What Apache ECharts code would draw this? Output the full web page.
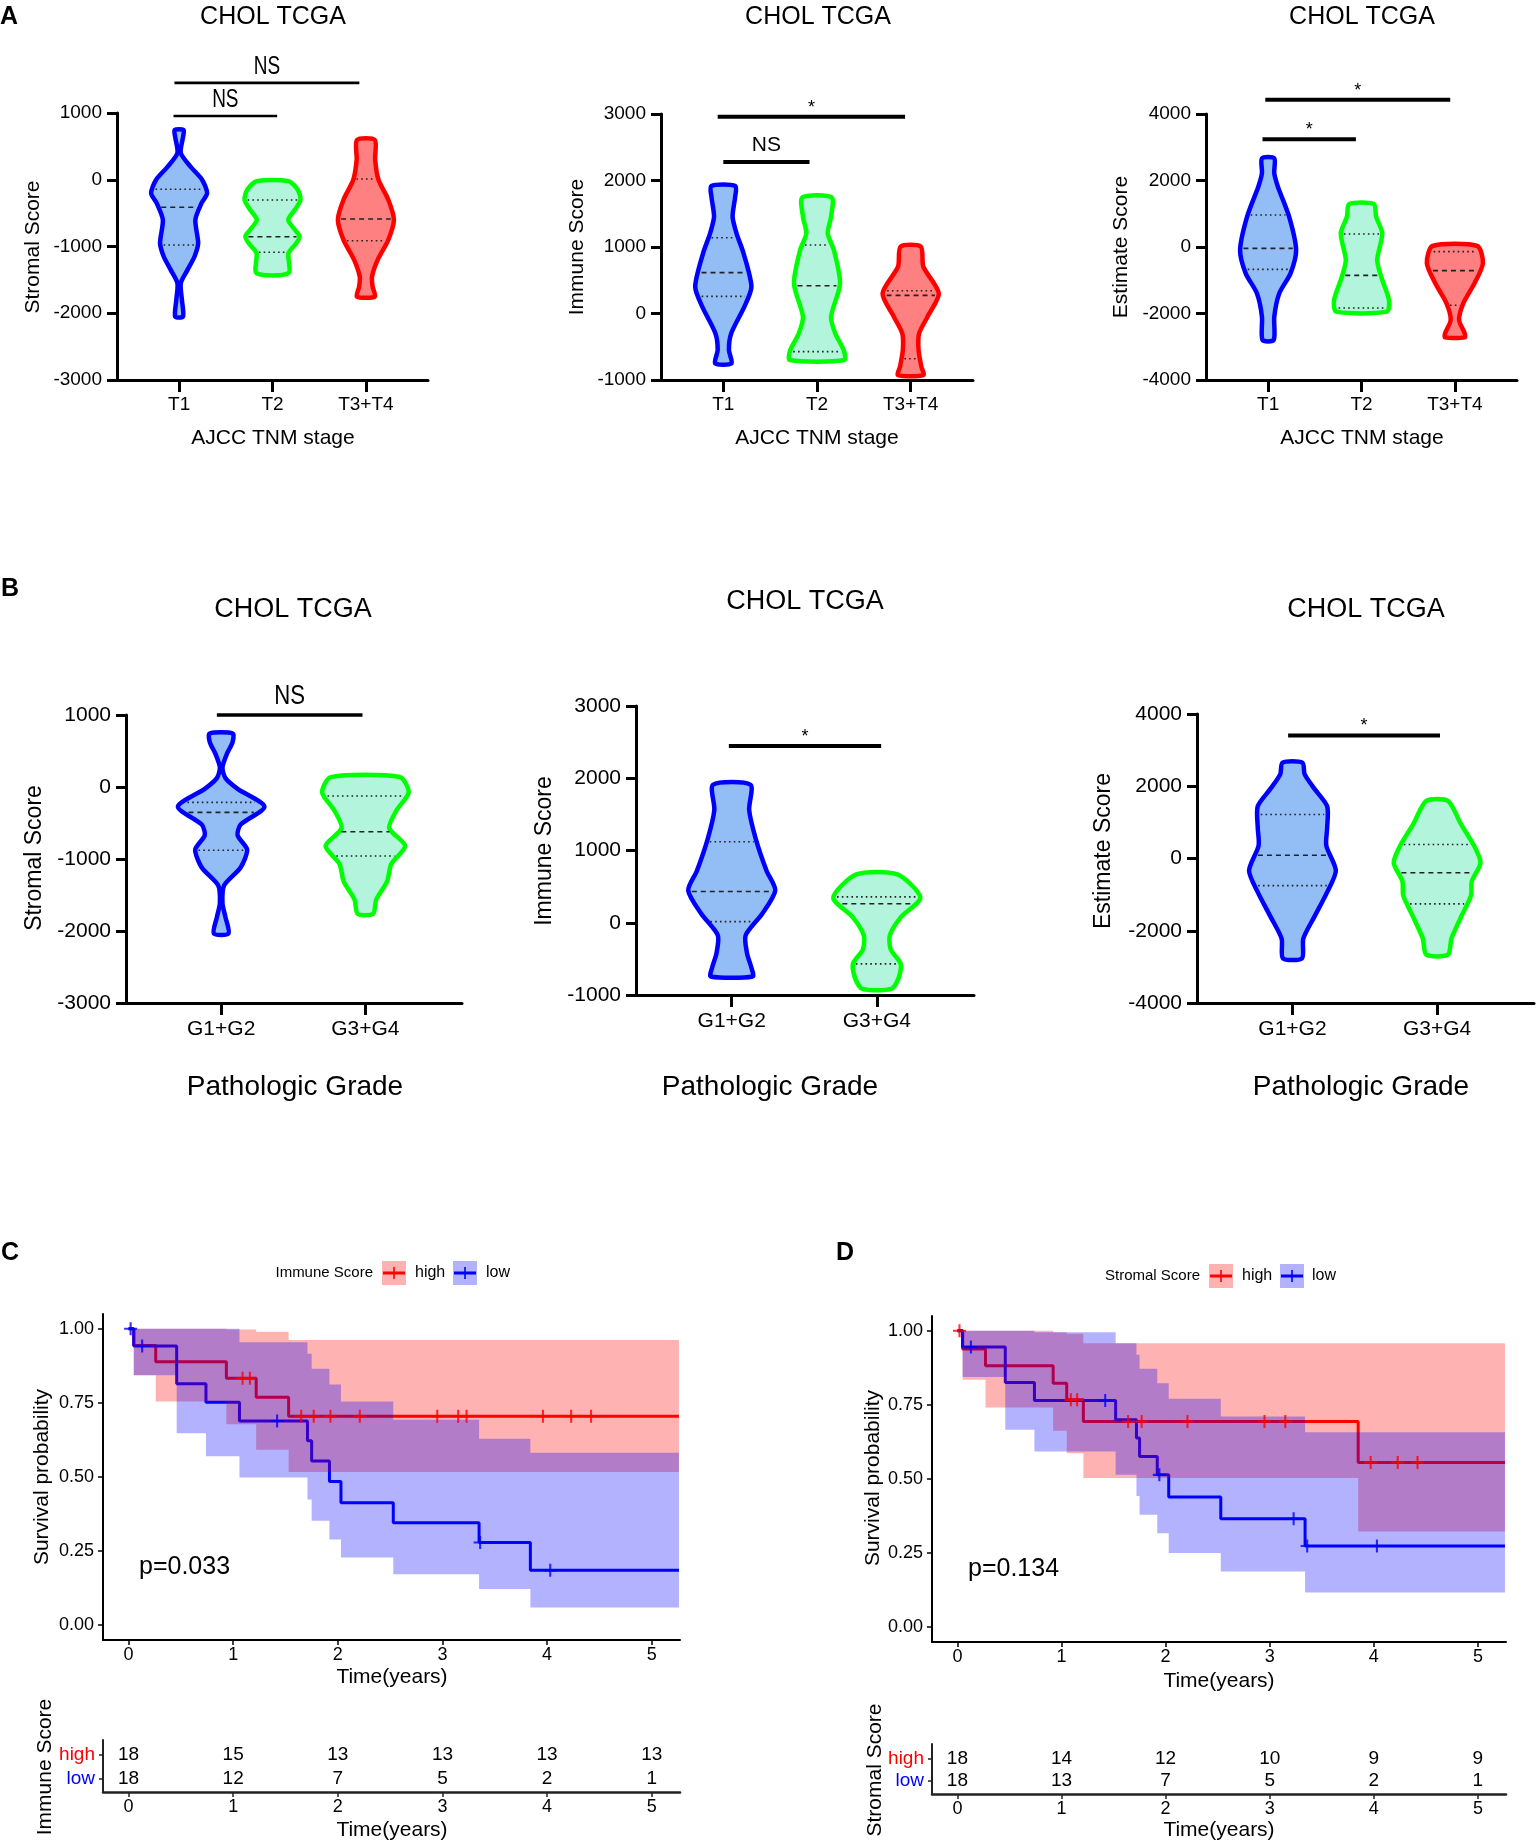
<!DOCTYPE html>
<html>
<head>
<meta charset="utf-8">
<script src="https://cdn.jsdelivr.net/npm/echarts@6/dist/echarts.min.js"></script>
<style>
  html, body { margin: 0; padding: 0; background: #fff; }
  #main { width: 1536px; height: 1845px; }
</style>
</head>
<body>
<div id="main"></div>
<script>
// ---- categories ----
const stageCats = ['T1', 'T2', 'T3+T4'];
const gradeCats = ['G1+G2', 'G3+G4'];

// ---- violin outlines: [score, relative half width], top to bottom ----
const stromalStageT1 = [[745,0.16],[640,0.14],[400,0.06],[200,0.4],[0,0.82],[-200,1.0],[-350,0.8],[-600,0.58],[-950,0.68],[-1150,0.55],[-1350,0.3],[-1550,0.06],[-1800,0.1],[-2050,0.14]];
const stromalStageT2 = [[-20,0.57],[-150,0.9],[-300,1.0],[-450,0.8],[-600,0.56],[-750,0.8],[-850,0.97],[-950,0.85],[-1100,0.57],[-1400,0.57]];
const stromalStageT34 = [[596,0.32],[300,0.33],[0,0.45],[-300,0.8],[-600,1.0],[-900,0.8],[-1200,0.42],[-1450,0.22],[-1600,0.24],[-1750,0.32]];
const immuneStageT1 = [[1917,0.43],[1750,0.42],[1456,0.33],[1205,0.47],[905,0.72],[403,1.0],[103,0.75],[-300,0.28],[-550,0.2],[-750,0.29]];
const immuneStageT2 = [[1747,0.52],[1456,0.5],[1205,0.38],[955,0.6],[450,0.82],[-48,0.5],[-300,0.65],[-550,0.95],[-700,0.97]];
const immuneStageT34 = [[1005,0.36],[704,0.45],[303,1.0],[-48,0.6],[-300,0.3],[-550,0.28],[-800,0.38],[-925,0.45]];
const estimateStageT1 = [[2667,0.22],[2216,0.22],[1815,0.35],[912,0.75],[-90,1.0],[-792,0.8],[-1393,0.4],[-2095,0.22],[-2797,0.2]];
const estimateStageT2 = [[1293,0.44],[912,0.52],[410,0.74],[-391,0.56],[-892,0.7],[-1594,0.98],[-1945,0.9]];
const estimateStageT34 = [[30,0.8],[-491,1.0],[-1093,0.7],[-1694,0.3],[-2195,0.15],[-2596,0.35],[-2717,0.35]];
const stromalGradeG12 = [[742,0.27],[618,0.26],[470,0.14],[271,0.03],[123,0.1],[-26,0.38],[-274,1.0],[-522,0.45],[-671,0.38],[-869,0.6],[-1117,0.45],[-1365,0.07],[-1612,0.03],[-1810,0.1],[-2034,0.17]];
const stromalGradeG34 = [[137,0.8],[-76,1.0],[-324,0.72],[-571,0.55],[-819,0.92],[-1067,0.6],[-1315,0.5],[-1563,0.25],[-1761,0.18]];
const immuneGradeG12 = [[1910,0.43],[1562,0.4],[1166,0.55],[720,0.8],[447,1.0],[125,0.7],[-173,0.32],[-420,0.35],[-619,0.45],[-743,0.48]];
const immuneGradeG34 = [[670,0.47],[348,1.0],[75,0.55],[-173,0.3],[-371,0.32],[-569,0.55],[-767,0.5],[-916,0.33]];
const estimateGradeG12 = [[2653,0.23],[2337,0.28],[1941,0.5],[1446,0.8],[852,0.8],[357,0.78],[-336,1.0],[-930,0.8],[-1623,0.5],[-2217,0.25],[-2762,0.22]];
const estimateGradeG34 = [[1594,0.25],[951,0.55],[357,0.85],[-118,1.0],[-633,0.8],[-1029,0.78],[-1623,0.55],[-2217,0.33],[-2663,0.25]];

// quartiles per violin: [upper, median, lower]
const stromalStageQ = [[-143,-413,-978],[-303,-853,-1087],[11,-588,-913]];
const immuneStageQ = [[1140,614,258],[1030,418,-574],[343,273,-680]];
const estimateStageQ = [[962,-40,-672],[391,-852,-1834],[-140,-712,-1754]];
const stromalGradeQ = [[-214,-353,-879],[-125,-621,-958]];
const immuneGradeQ = [[1121,432,16],[358,264,-569]];
const estimateGradeQ = [[1218,90,-752],[386,-396,-1257]];

// significance bars: [from, to, score level], and their labels
const sigStromalStage = [[0.94,2.05,955],[0.95,2.93,1450]];
const sigStromalStageLbl = ['NS','NS'];
const sigImmuneStage = [[1.0,1.92,2278],[0.94,2.94,2960]];
const sigImmuneStageLbl = ['NS','*'];
const sigEstimateStage = [[0.94,1.94,3239],[0.97,2.95,4430]];
const sigEstimateStageLbl = ['*','*'];
const sigStromalGrade = [[0.97,1.98,1000]];
const sigStromalGradeLbl = ['NS'];
const sigImmuneGrade = [[0.98,2.03,2445]];
const sigImmuneGradeLbl = ['*'];
const sigEstimateGrade = [[0.97,2.02,3406]];
const sigEstimateGradeLbl = ['*'];

// ---- survival (Kaplan-Meier) ----
const immHighT = [0, 0.05, 0.26, 0.935, 1.22, 1.53];
const immHighS = [1, 0.944, 0.889, 0.833, 0.769, 0.705];
const immHighCens = [1.09, 1.16, 1.65, 1.77, 1.93, 2.21, 2.95, 3.15, 3.23, 3.96, 4.23, 4.42];
const immHighBandT = [0.05, 0.26, 0.935, 1.22, 1.53];
const immHighUp = [1, 1, 0.998, 0.99, 0.962];
const immHighLo = [0.843, 0.755, 0.678, 0.592, 0.517];
const immLowT = [0, 0.05, 0.46, 0.74, 1.06, 1.71, 1.75, 1.92, 2.03, 2.53, 3.35, 3.84];
const immLowS = [1, 0.942, 0.815, 0.752, 0.689, 0.622, 0.554, 0.485, 0.413, 0.346, 0.279, 0.185];
const immLowCens = [0.02, 0.13, 1.42, 3.36, 4.03];
const immLowBandT = [0.05, 0.46, 0.74, 1.06, 1.71, 1.75, 1.92, 2.03, 2.53, 3.35, 3.84];
const immLowUp = [1, 1, 1, 0.955, 0.916, 0.865, 0.812, 0.755, 0.693, 0.629, 0.582];
const immLowLo = [0.843, 0.648, 0.57, 0.498, 0.424, 0.352, 0.289, 0.228, 0.172, 0.122, 0.06];

const strHighT = [0, 0.05, 0.27, 0.92, 1.05, 1.21, 3.85];
const strHighS = [1, 0.939, 0.882, 0.823, 0.767, 0.694, 0.556];
const strHighCens = [0.02, 1.09, 1.15, 1.64, 1.77, 2.21, 2.95, 3.15, 3.97, 4.23, 4.42];
const strHighBandT = [0.05, 0.27, 0.92, 1.05, 1.21, 3.85];
const strHighUp = [1, 1, 0.995, 0.99, 0.958, 0.958];
const strHighLo = [0.835, 0.741, 0.663, 0.587, 0.503, 0.323];
const strLowT = [0, 0.05, 0.46, 0.74, 1.52, 1.72, 1.75, 1.92, 2.03, 2.53, 3.34];
const strLowS = [1, 0.945, 0.826, 0.765, 0.70, 0.638, 0.576, 0.514, 0.439, 0.366, 0.274];
const strLowCens = [0.13, 1.42, 1.94, 3.23, 3.36, 4.03];
const strLowBandT = [0.05, 0.46, 0.74, 1.52, 1.72, 1.75, 1.92, 2.03, 2.53, 3.34];
const strLowUp = [1, 1, 0.995, 0.958, 0.919, 0.872, 0.823, 0.771, 0.711, 0.658];
const strLowLo = [0.844, 0.666, 0.593, 0.514, 0.443, 0.379, 0.317, 0.25, 0.188, 0.117];

// numbers at risk
const riskTimes = [0, 1, 2, 3, 4, 5];
const immRiskHigh = [18, 15, 13, 13, 13, 13];
const immRiskLow = [18, 12, 7, 5, 2, 1];
const strRiskHigh = [18, 14, 12, 10, 9, 9];
const strRiskLow = [18, 13, 7, 5, 2, 1];
const survTicks = [0, 0.25, 0.5, 0.75, 1];

// ---- styles ----
const F = "'Liberation Sans', Arial, Helvetica, sans-serif";
const violinCol = [
  { line: '#0000ff', fill: '#93bef5' },
  { line: '#00ff00', fill: '#b3f5dc' },
  { line: '#ff0000', fill: '#ff8080' }
];
const HW = 0.3;        // max violin half width, in category units
const T_END = 5.26;

const myChart = echarts.init(document.getElementById('main'), null, { renderer: 'canvas' });

const grids = [], xAxes = [], yAxes = [], series = [], graphic = [];

function widthAt(prof, v) {
  for (let i = 0; i < prof.length - 1; i++) {
    const a = prof[i], b = prof[i + 1];
    if (v <= a[0] && v >= b[0]) {
      const f = (a[0] - v) / (a[0] - b[0] || 1);
      return a[1] + (b[1] - a[1]) * f;
    }
  }
  return 0;
}

function violinPanel(p) {
  const idx = grids.length;
  grids.push({ left: p.box[0], top: p.box[1], width: p.box[2], height: p.box[3] });
  const cats = p.cats;
  const tickVals = cats.map((c, i) => i + 1);
  xAxes.push({
    gridIndex: idx, type: 'value', min: p.xMin, max: p.xMax,
    axisLine: { onZero: false, lineStyle: { color: '#000', width: 3 } },
    axisTick: { customValues: tickVals, length: 12, lineStyle: { color: '#000', width: 3 } },
    axisLabel: { customValues: tickVals, formatter: v => cats[Math.round(v) - 1] || '',
      color: '#000', fontSize: p.labelSize, fontFamily: F, margin: p.xMargin },
    splitLine: { show: false }
  });
  yAxes.push({
    gridIndex: idx, type: 'value', min: p.yMin, max: p.yMax, interval: p.yStep,
    axisLine: { show: true, onZero: false, lineStyle: { color: '#000', width: 3 } },
    axisTick: { show: true, length: 10, lineStyle: { color: '#000', width: 3 } },
    axisLabel: { formatter: v => String(v), color: '#000', fontSize: p.labelSize, fontFamily: F, margin: 15 },
    splitLine: { show: false }
  });
  series.push({
    type: 'custom', xAxisIndex: idx, yAxisIndex: idx, clip: false, silent: true,
    data: cats.map((c, i) => [i + 1, i]),
    renderItem: (params, api) => {
      const x = api.value(0), k = api.value(1);
      const prof = p.profiles[k];
      const pts = [];
      prof.forEach(d => pts.push(api.coord([x + d[1] * HW, d[0]])));
      prof.slice().reverse().forEach(d => pts.push(api.coord([x - d[1] * HW, d[0]])));
      const children = [{
        type: 'polygon', shape: { points: pts, smooth: 0.25 },
        style: { fill: violinCol[k].fill, stroke: violinCol[k].line, lineWidth: 4.5, lineJoin: 'round' }
      }];
      p.quart[k].forEach((v, j) => {
        const r = widthAt(prof, v);
        const a = api.coord([x - r * HW, v]), b = api.coord([x + r * HW, v]);
        children.push({
          type: 'line', shape: { x1: a[0] + 3, y1: a[1], x2: b[0] - 3, y2: b[1] },
          style: { stroke: '#222', lineWidth: 1.6, lineDash: j === 1 ? [5, 4] : [1.6, 3.2] }
        });
      });
      return { type: 'group', children };
    }
  });
  // significance bars
  series.push({
    type: 'custom', xAxisIndex: idx, yAxisIndex: idx, clip: false, silent: true,
    data: p.sig.map((s, i) => [s[0], s[1], s[2], i]),
    renderItem: (params, api) => {
      const a = api.coord([api.value(0), api.value(2)]);
      const b = api.coord([api.value(1), api.value(2)]);
      const lbl = p.sigLbl[api.value(3)];
      const star = lbl === '*';
      return {
        type: 'group', children: [
          { type: 'line', shape: { x1: a[0], y1: a[1], x2: b[0], y2: b[1] },
            style: { stroke: '#000', lineWidth: p.sigWidth } },
          { type: 'text', x: (a[0] + b[0]) / 2, y: a[1] - (star ? 9 : p.nsLift),
            scaleX: star ? 1 : p.nsScale,
            style: { text: lbl, fill: '#000', align: 'center', verticalAlign: 'middle',
              textAlign: 'center', textVerticalAlign: 'middle',
              font: (star ? '18px ' : p.nsSize + 'px ') + F } }
        ]
      };
    }
  });
}

function survAt(times, surv, t) {
  let s = surv[0];
  for (let i = 0; i < times.length; i++) if (times[i] <= t) s = surv[i];
  return s;
}

function kmPanel(p) {
  const idx = grids.length;
  grids.push({ left: p.box[0], top: p.box[1], width: p.box[2], height: p.box[3] });
  xAxes.push({
    gridIndex: idx, type: 'value', min: -0.244, max: 5.27,
    axisLine: { onZero: false, lineStyle: { color: '#000', width: 2 } },
    axisTick: { customValues: riskTimes, length: 5, lineStyle: { color: '#000', width: 1.5 } },
    axisLabel: { customValues: riskTimes, color: '#000', fontSize: 18, fontFamily: F, margin: 6 },
    splitLine: { show: false }
  });
  yAxes.push({
    gridIndex: idx, type: 'value', min: -0.05, max: 1.05,
    axisLine: { show: true, onZero: false, lineStyle: { color: '#000', width: 2 } },
    axisTick: { show: true, customValues: survTicks, length: 5, lineStyle: { color: '#000', width: 1.5 } },
    axisLabel: { customValues: survTicks, formatter: v => v.toFixed(2), color: '#000',
      fontSize: 18, fontFamily: F, margin: 9 },
    splitLine: { show: false }
  });
  const groups = [
    { t: p.highT, s: p.highS, cens: p.highCens, bt: p.highBandT, up: p.highUp, lo: p.highLo,
      line: '#ff0000', band: 'rgba(255,0,0,0.3)' },
    { t: p.lowT, s: p.lowS, cens: p.lowCens, bt: p.lowBandT, up: p.lowUp, lo: p.lowLo,
      line: '#0000ff', band: 'rgba(0,0,255,0.3)' }
  ];
  groups.forEach(g => {
    const pts = g.t.map((t, i) => [t, g.s[i]]);
    pts.push([T_END, g.s[g.s.length - 1]]);
    series.push({
      type: 'line', xAxisIndex: idx, yAxisIndex: idx, step: 'end', data: pts,
      showSymbol: false, silent: true, z: 2,
      lineStyle: { color: g.line, width: 3 }
    });
  });
  groups.forEach(g => {
    series.push({
      type: 'custom', xAxisIndex: idx, yAxisIndex: idx, silent: true, z: 3,
      data: [[0]],
      renderItem: (params, api) => {
        const pts = [];
        const n = g.bt.length;
        for (let i = 0; i < n; i++) {
          const t1 = i < n - 1 ? g.bt[i + 1] : T_END;
          pts.push(api.coord([g.bt[i], g.up[i]]), api.coord([t1, g.up[i]]));
        }
        for (let i = n - 1; i >= 0; i--) {
          const t1 = i < n - 1 ? g.bt[i + 1] : T_END;
          pts.push(api.coord([t1, g.lo[i]]), api.coord([g.bt[i], g.lo[i]]));
        }
        return { type: 'polygon', shape: { points: pts }, style: { fill: g.band } };
      }
    });
  });
  groups.forEach(g => {
    series.push({
      type: 'scatter', xAxisIndex: idx, yAxisIndex: idx, silent: true, z: 4,
      data: g.cens.map(t => [t, survAt(g.t, g.s, t)]),
      symbol: 'path://M4.2,0H5.8V10H4.2Z M0,4.2H10V5.8H0Z', symbolSize: 13,
      itemStyle: { color: g.line }
    });
  });

  // risk table
  const ti = grids.length;
  grids.push({ left: p.tbox[0], top: p.tbox[1], width: p.tbox[2], height: p.tbox[3] });
  xAxes.push({
    gridIndex: ti, type: 'value', min: -0.244, max: 5.27,
    axisLine: { onZero: false, lineStyle: { color: '#222', width: 2.5 } },
    axisTick: { customValues: riskTimes, length: 5, lineStyle: { color: '#222', width: 1.5 } },
    axisLabel: { customValues: riskTimes, color: '#000', fontSize: 18, fontFamily: F, margin: 6 },
    splitLine: { show: false }
  });
  yAxes.push({
    gridIndex: ti, type: 'value', min: 0.43, max: 2.64,
    axisLine: { show: true, onZero: false, lineStyle: { color: '#222', width: 2 } },
    axisTick: { show: true, customValues: [1, 2], length: 4, lineStyle: { color: '#222', width: 1.5 } },
    axisLabel: { customValues: [1, 2], margin: 8,
      formatter: v => (v === 2 ? '{h|high}' : '{l|low}'),
      rich: { h: { color: '#ff0000', fontSize: 19, fontFamily: F }, l: { color: '#0000ff', fontSize: 19, fontFamily: F } } },
    splitLine: { show: false }
  });
  const cells = [];
  riskTimes.forEach((t, i) => { cells.push([t, 2, p.riskHigh[i]]); cells.push([t, 1, p.riskLow[i]]); });
  series.push({
    type: 'custom', xAxisIndex: ti, yAxisIndex: ti, silent: true, clip: false,
    data: cells,
    renderItem: (params, api) => {
      const c = api.coord([api.value(0), api.value(1)]);
      return { type: 'text', x: c[0], y: c[1],
        style: { text: String(api.value(2)), fill: '#000', font: '19px ' + F,
          align: 'center', verticalAlign: 'middle', textAlign: 'center', textVerticalAlign: 'middle' } };
    }
  });
}

// ---- panels A ----
const stageCommon = { cats: stageCats, xMin: 0.335, xMax: 3.665, labelSize: 19, xMargin: 15 };
violinPanel(Object.assign({}, stageCommon, {
  box: [117, 113, 311, 267], yMin: -3000, yMax: 1000, yStep: 1000,
  profiles: [stromalStageT1, stromalStageT2, stromalStageT34], quart: stromalStageQ,
  sig: sigStromalStage, sigLbl: sigStromalStageLbl, sigWidth: 2.7, nsSize: 25, nsScale: 0.76, nsLift: 16
}));
violinPanel(Object.assign({}, stageCommon, {
  box: [661, 114, 312, 266], yMin: -1000, yMax: 3000, yStep: 1000,
  profiles: [immuneStageT1, immuneStageT2, immuneStageT34], quart: immuneStageQ,
  sig: sigImmuneStage, sigLbl: sigImmuneStageLbl, sigWidth: 4, nsSize: 21, nsScale: 1, nsLift: 17
}));
violinPanel(Object.assign({}, stageCommon, {
  box: [1206, 114, 311, 266], yMin: -4000, yMax: 4000, yStep: 2000,
  profiles: [estimateStageT1, estimateStageT2, estimateStageT34], quart: estimateStageQ,
  sig: sigEstimateStage, sigLbl: sigEstimateStageLbl, sigWidth: 4, nsSize: 21, nsScale: 1, nsLift: 17
}));

// ---- panels B ----
const gradeCommon = { cats: gradeCats, xMin: 0.34, xMax: 2.67, labelSize: 21, xMargin: 16 };
violinPanel(Object.assign({}, gradeCommon, {
  box: [126, 715, 336, 288], yMin: -3000, yMax: 1000, yStep: 1000,
  profiles: [stromalGradeG12, stromalGradeG34], quart: stromalGradeQ,
  sig: sigStromalGrade, sigLbl: sigStromalGradeLbl, sigWidth: 3.3, nsSize: 27, nsScale: 0.82, nsLift: 18
}));
violinPanel(Object.assign({}, gradeCommon, {
  box: [636, 706, 338, 289], yMin: -1000, yMax: 3000, yStep: 1000,
  profiles: [immuneGradeG12, immuneGradeG34], quart: immuneGradeQ,
  sig: sigImmuneGrade, sigLbl: sigImmuneGradeLbl, sigWidth: 4, nsSize: 21, nsScale: 1, nsLift: 17
}));
violinPanel(Object.assign({}, gradeCommon, {
  box: [1197, 714, 337, 289], yMin: -4000, yMax: 4000, yStep: 2000,
  profiles: [estimateGradeG12, estimateGradeG34], quart: estimateGradeQ,
  sig: sigEstimateGrade, sigLbl: sigEstimateGradeLbl, sigWidth: 4, nsSize: 21, nsScale: 1, nsLift: 17
}));

// ---- panels C, D ----
kmPanel({
  box: [103, 1314, 577, 326], tbox: [103, 1740, 577, 52],
  highT: immHighT, highS: immHighS, highCens: immHighCens, highBandT: immHighBandT, highUp: immHighUp, highLo: immHighLo,
  lowT: immLowT, lowS: immLowS, lowCens: immLowCens, lowBandT: immLowBandT, lowUp: immLowUp, lowLo: immLowLo,
  riskHigh: immRiskHigh, riskLow: immRiskLow
});
kmPanel({
  box: [932, 1316, 574, 326], tbox: [932, 1744, 574, 50],
  highT: strHighT, highS: strHighS, highCens: strHighCens, highBandT: strHighBandT, highUp: strHighUp, highLo: strHighLo,
  lowT: strLowT, lowS: strLowS, lowCens: strLowCens, lowBandT: strLowBandT, lowUp: strLowUp, lowLo: strLowLo,
  riskHigh: strRiskHigh, riskLow: strRiskLow
});

// ---- texts ----
function txt(x, y, s, size, o) {
  o = o || {};
  return {
    type: 'text', x: x, y: y, rotation: o.rot || 0, silent: true, z: 10,
    style: {
      text: s, fill: o.color || '#000',
      font: (o.bold ? 'bold ' : '') + size + 'px ' + F,
      align: o.align || 'center', verticalAlign: 'middle',
      textAlign: o.align || 'center', textVerticalAlign: 'middle'
    }
  };
}
const R = Math.PI / 2;
graphic.push(
  txt(0, 17, 'A', 25, { bold: true, align: 'left' }),
  txt(1, 589, 'B', 25, { bold: true, align: 'left' }),
  txt(1, 1253, 'C', 25, { bold: true, align: 'left' }),
  txt(836, 1253, 'D', 25, { bold: true, align: 'left' }),

  txt(273, 17, 'CHOL TCGA', 25), txt(818, 17, 'CHOL TCGA', 25), txt(1362, 17, 'CHOL TCGA', 25),
  txt(273, 438, 'AJCC TNM stage', 21), txt(817, 438, 'AJCC TNM stage', 21), txt(1362, 438, 'AJCC TNM stage', 21),
  txt(33, 247, 'Stromal Score', 21, { rot: R }), txt(577, 247, 'Immune Score', 21, { rot: R }),
  txt(1121, 247, 'Estimate Score', 21, { rot: R }),

  txt(293, 610, 'CHOL TCGA', 27), txt(805, 602, 'CHOL TCGA', 27), txt(1366, 610, 'CHOL TCGA', 27),
  txt(295, 1087, 'Pathologic Grade', 28), txt(770, 1087, 'Pathologic Grade', 28), txt(1361, 1087, 'Pathologic Grade', 28),
  txt(35, 858, 'Stromal Score', 23, { rot: R }), txt(545, 851, 'Immune Score', 23, { rot: R }),
  txt(1104, 851, 'Estimate Score', 23, { rot: R }),

  txt(42, 1477, 'Survival probability', 21, { rot: R }),
  txt(873, 1478, 'Survival probability', 21, { rot: R }),
  txt(392, 1677, 'Time(years)', 21), txt(1219, 1681, 'Time(years)', 21),
  txt(392, 1830, 'Time(years)', 21), txt(1219, 1830, 'Time(years)', 21),
  txt(45, 1767, 'Immune Score', 21, { rot: R }), txt(875, 1770, 'Stromal Score', 21, { rot: R }),
  txt(139, 1567, 'p=0.033', 25, { align: 'left' }), txt(968, 1569, 'p=0.134', 25, { align: 'left' })
);

function legendKey(x, y, line, band) {
  return [
    { type: 'rect', silent: true, z: 10, shape: { x: x, y: y, width: 24, height: 24 }, style: { fill: band } },
    { type: 'line', silent: true, z: 11, shape: { x1: x + 1, y1: y + 12, x2: x + 23, y2: y + 12 }, style: { stroke: line, lineWidth: 3 } },
    { type: 'line', silent: true, z: 11, shape: { x1: x + 12, y1: y + 6, x2: x + 12, y2: y + 18 }, style: { stroke: line, lineWidth: 1.6 } }
  ];
}
graphic.push(
  txt(373, 1273, 'Immune Score', 15, { align: 'right' }),
  ...legendKey(382, 1261, '#ff0000', 'rgba(255,0,0,0.3)'),
  txt(415, 1273, 'high', 16, { align: 'left' }),
  ...legendKey(453, 1261, '#0000ff', 'rgba(0,0,255,0.3)'),
  txt(486, 1273, 'low', 16, { align: 'left' }),

  txt(1200, 1276, 'Stromal Score', 15, { align: 'right' }),
  ...legendKey(1209, 1264, '#ff0000', 'rgba(255,0,0,0.3)'),
  txt(1242, 1276, 'high', 16, { align: 'left' }),
  ...legendKey(1280, 1264, '#0000ff', 'rgba(0,0,255,0.3)'),
  txt(1312, 1276, 'low', 16, { align: 'left' })
);

const option = {
  animation: false,
  backgroundColor: '#fff',
  grid: grids,
  xAxis: xAxes,
  yAxis: yAxes,
  series: series,
  graphic: graphic
};
myChart.setOption(option);
</script>
</body>
</html>
